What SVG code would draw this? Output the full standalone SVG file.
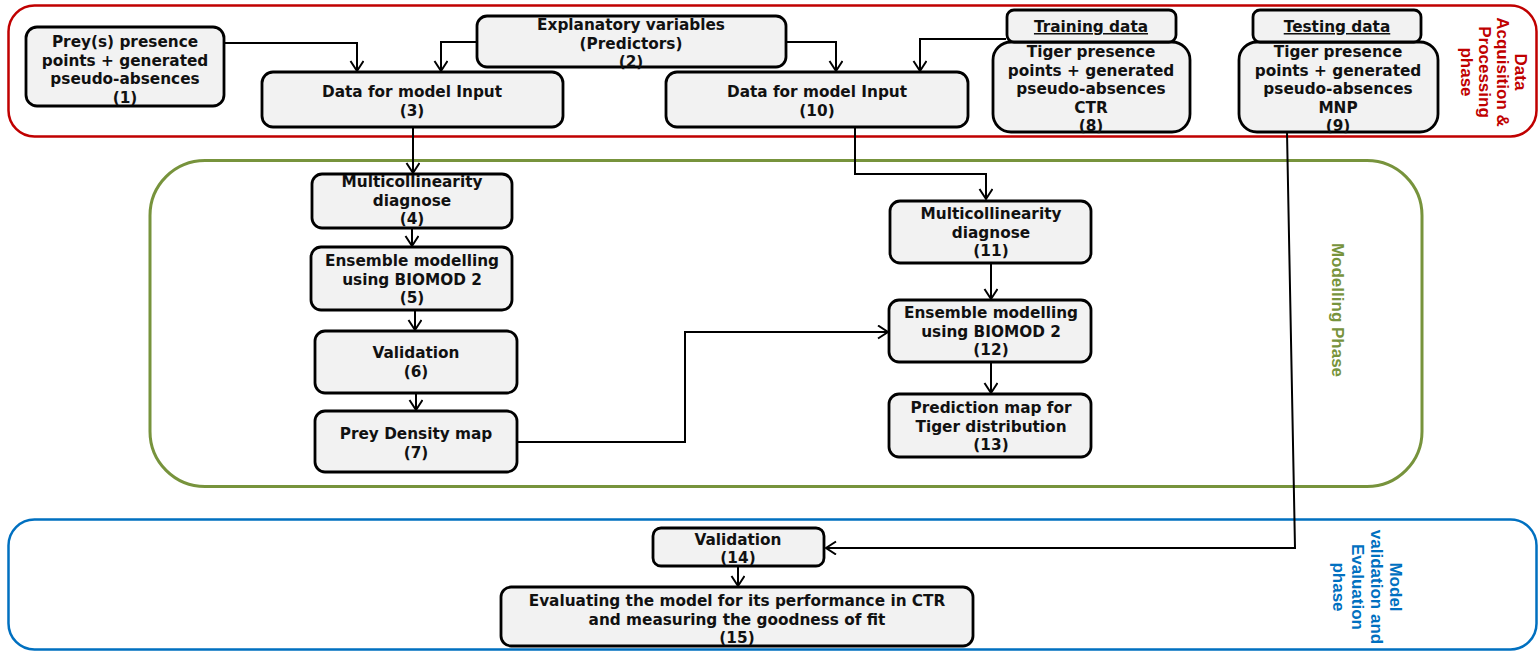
<svg xmlns="http://www.w3.org/2000/svg" width="1540" height="652" viewBox="0 0 1540 652">
<style>
.node{fill:#f2f2f2;stroke:#000;stroke-width:2.8}
.t{font-family:"DejaVu Sans",Verdana,sans-serif;font-weight:bold;font-size:15.3px;fill:#111;text-anchor:middle}
.c{fill:none;stroke:#000;stroke-width:2}
.ph{font-family:"Liberation Sans",Arial,sans-serif;font-weight:bold;font-size:17px;text-anchor:middle}
</style>
<defs>
<marker id="a" markerUnits="userSpaceOnUse" markerWidth="14" markerHeight="16" refX="11" refY="7" orient="auto">
<path d="M1,0.5 L11,7 L1,13.5" fill="none" stroke="#000" stroke-width="2"/>
</marker>
</defs>
<rect width="1540" height="652" fill="#fff"/>
<g id="phase-acquisition">
<rect x="8.5" y="5.5" width="1528" height="131" rx="26" fill="none" stroke="#c00000" stroke-width="2.5"/>
<text class="ph" fill="#c00000" transform="translate(1494,72) rotate(90)"><tspan x="0" y="-21">Data</tspan><tspan x="0" y="-3">Acquisition &amp;</tspan><tspan x="0" y="15">Processing</tspan><tspan x="0" y="33">phase</tspan></text>
</g>
<g id="phase-modelling">
<rect x="150" y="160.5" width="1272" height="326" rx="55" fill="none" stroke="#77933c" stroke-width="3"/>
<text class="ph" fill="#77933c" transform="translate(1338,310) rotate(90)"><tspan x="0" y="6">Modelling Phase</tspan></text>
</g>
<g id="phase-validation">
<rect x="8.5" y="519.5" width="1528" height="130" rx="26" fill="none" stroke="#0070c0" stroke-width="2.5"/>
<text class="ph" fill="#0070c0" transform="translate(1367,587) rotate(90)"><tspan x="0" y="-23">Model</tspan><tspan x="0" y="-4">validation and</tspan><tspan x="0" y="15">Evaluation</tspan><tspan x="0" y="34">phase</tspan></text>
</g>
<g id="connectors">
<path class="c" d="M224,43 H357 V71" marker-end="url(#a)"/>
<path class="c" d="M477,42 H441 V71" marker-end="url(#a)"/>
<path class="c" d="M786,42 H836 V71" marker-end="url(#a)"/>
<path class="c" d="M1006,39 H920 V71" marker-end="url(#a)"/>
<path class="c" d="M413,127 V173" marker-end="url(#a)"/>
<path class="c" d="M855,127 V174 H986 V199" marker-end="url(#a)"/>
<path class="c" d="M412,228 V246" marker-end="url(#a)"/>
<path class="c" d="M415,310 V330" marker-end="url(#a)"/>
<path class="c" d="M416,393 V410" marker-end="url(#a)"/>
<path class="c" d="M517,442 H685 V332 H888" marker-end="url(#a)"/>
<path class="c" d="M991,263 V299" marker-end="url(#a)"/>
<path class="c" d="M991,362 V393" marker-end="url(#a)"/>
<path class="c" d="M1287,132 L1295,548 H826" marker-end="url(#a)"/>
<path class="c" d="M738,566 V586" marker-end="url(#a)"/>
</g>
<g id="n1"><rect class="node" x="26" y="27" width="198" height="79" rx="11"/>
<text class="t"><tspan x="125" y="47">Prey(s) presence</tspan><tspan x="125" y="65.5">points + generated</tspan><tspan x="125" y="84">pseudo-absences</tspan><tspan x="125" y="102.5">(1)</tspan></text></g>
<g id="n2"><rect class="node" x="477" y="16" width="309" height="51" rx="10"/>
<text class="t"><tspan x="631" y="30">Explanatory variables</tspan><tspan x="631" y="48.5">(Predictors)</tspan><tspan x="631" y="67">(2)</tspan></text></g>
<g id="n3"><rect class="node" x="262" y="72" width="301" height="55" rx="11"/>
<text class="t"><tspan x="412" y="97">Data for model Input</tspan><tspan x="412" y="115.5">(3)</tspan></text></g>
<g id="n10"><rect class="node" x="666" y="72" width="302" height="55" rx="11"/>
<text class="t"><tspan x="817" y="97">Data for model Input</tspan><tspan x="817" y="115.5">(10)</tspan></text></g>
<g id="n8"><rect class="node" x="993" y="42" width="197" height="90" rx="18"/>
<text class="t"><tspan x="1091" y="57">Tiger presence</tspan><tspan x="1091" y="75.5">points + generated</tspan><tspan x="1091" y="94">pseudo-absences</tspan><tspan x="1091" y="112.5">CTR</tspan><tspan x="1091" y="131">(8)</tspan></text></g>
<g id="training"><rect class="node" x="1007" y="10" width="169" height="32" rx="7"/>
<text class="t" x="1091" y="32" text-decoration="underline">Training data</text></g>
<g id="n9"><rect class="node" x="1239" y="42" width="199" height="90" rx="18"/>
<text class="t"><tspan x="1338" y="57">Tiger presence</tspan><tspan x="1338" y="75.5">points + generated</tspan><tspan x="1338" y="94">pseudo-absences</tspan><tspan x="1338" y="112.5">MNP</tspan><tspan x="1338" y="131">(9)</tspan></text></g>
<g id="testing"><rect class="node" x="1253" y="10" width="168" height="32" rx="7"/>
<text class="t" x="1337" y="32" text-decoration="underline">Testing data</text></g>
<g id="n4"><rect class="node" x="312" y="174" width="200" height="54" rx="10"/>
<text class="t"><tspan x="412" y="187">Multicollinearity</tspan><tspan x="412" y="205.5">diagnose</tspan><tspan x="412" y="224">(4)</tspan></text></g>
<g id="n5"><rect class="node" x="311" y="247" width="201" height="63" rx="10"/>
<text class="t"><tspan x="412" y="266">Ensemble modelling</tspan><tspan x="412" y="284.5">using BIOMOD 2</tspan><tspan x="412" y="303">(5)</tspan></text></g>
<g id="n6"><rect class="node" x="315" y="331" width="202" height="62" rx="10"/>
<text class="t"><tspan x="416" y="358">Validation</tspan><tspan x="416" y="377">(6)</tspan></text></g>
<g id="n7"><rect class="node" x="315" y="411" width="202" height="61" rx="10"/>
<text class="t"><tspan x="416" y="439">Prey Density map</tspan><tspan x="416" y="458">(7)</tspan></text></g>
<g id="n11"><rect class="node" x="890" y="201" width="201" height="62" rx="10"/>
<text class="t"><tspan x="991" y="219">Multicollinearity</tspan><tspan x="991" y="237.5">diagnose</tspan><tspan x="991" y="256">(11)</tspan></text></g>
<g id="n12"><rect class="node" x="889" y="300" width="202" height="62" rx="10"/>
<text class="t"><tspan x="991" y="318">Ensemble modelling</tspan><tspan x="991" y="336.5">using BIOMOD 2</tspan><tspan x="991" y="355">(12)</tspan></text></g>
<g id="n13"><rect class="node" x="889" y="394" width="202" height="63" rx="10"/>
<text class="t"><tspan x="991" y="413">Prediction map for</tspan><tspan x="991" y="431.5">Tiger distribution</tspan><tspan x="991" y="450">(13)</tspan></text></g>
<g id="n14"><rect class="node" x="653" y="528" width="171" height="38" rx="8"/>
<text class="t"><tspan x="738" y="545">Validation</tspan><tspan x="738" y="563">(14)</tspan></text></g>
<g id="n15"><rect class="node" x="501" y="587" width="472" height="59" rx="10"/>
<text class="t"><tspan x="737" y="606">Evaluating the model for its performance in CTR</tspan><tspan x="737" y="624.5">and measuring the goodness of fit</tspan><tspan x="737" y="643">(15)</tspan></text></g>
</svg>
